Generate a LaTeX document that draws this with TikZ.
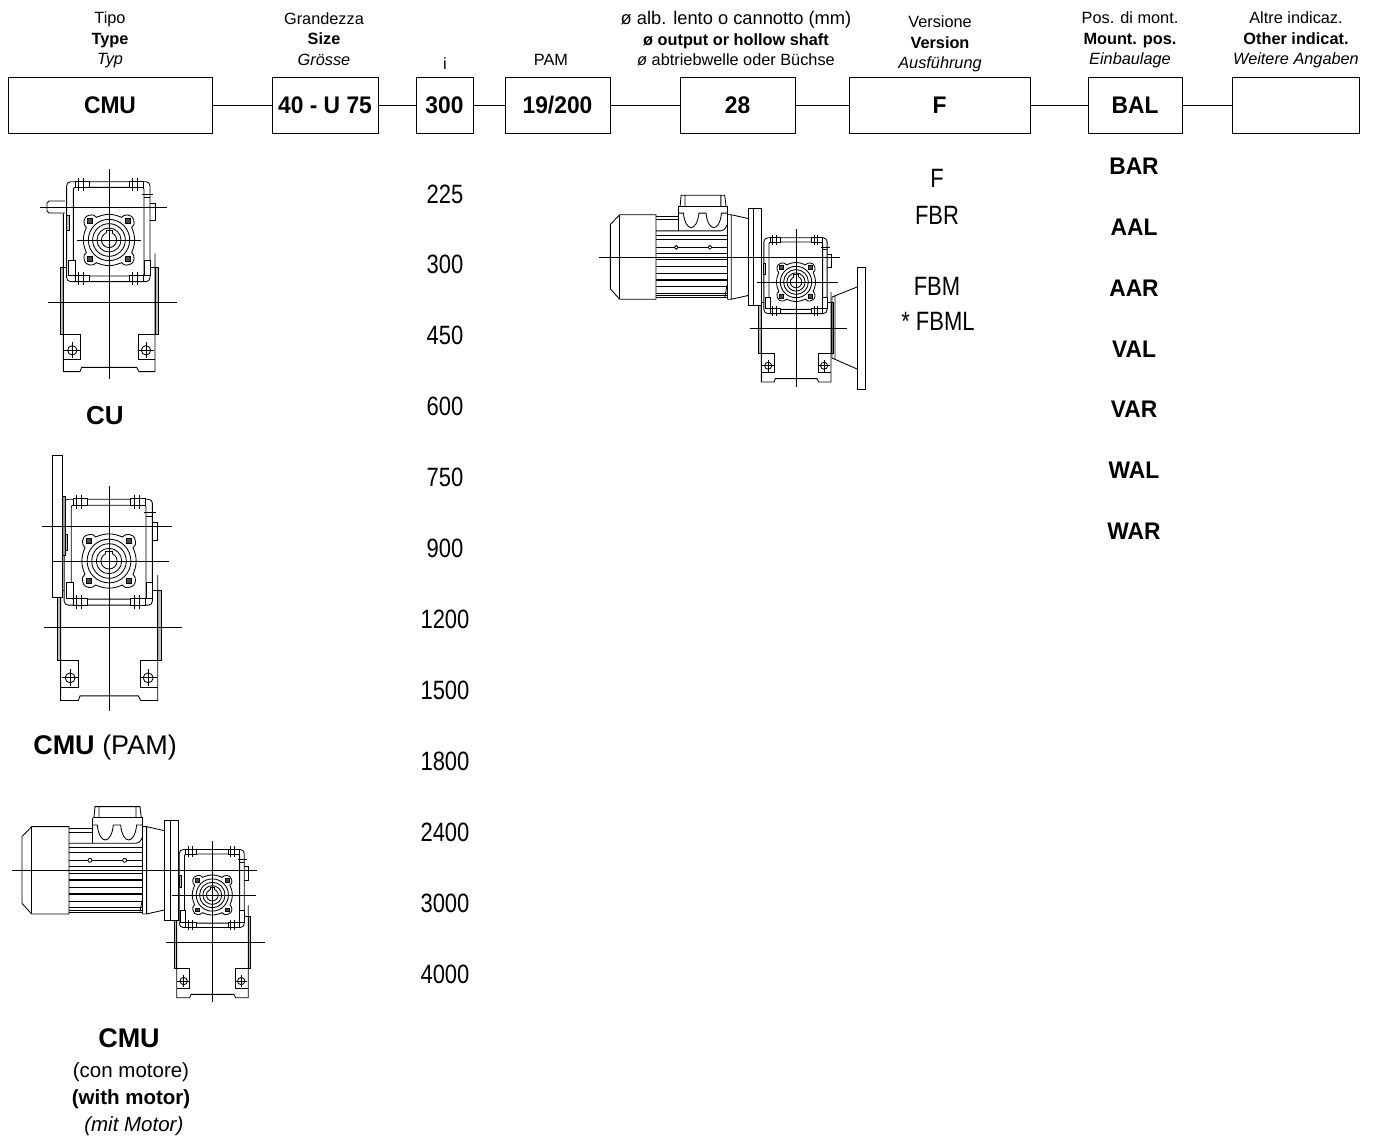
\documentclass[tikz,border=0pt]{standalone}
\usepackage{fontspec}
\setmainfont{Liberation Sans}
\newfontfamily\tallfont[FakeStretch=0.83]{Liberation Sans}
\newfontfamily\codefont[FakeStretch=0.95]{Liberation Sans}
\newcommand{\fs}[1]{\fontsize{#1}{#1}\selectfont}

\begin{document}
\begin{tikzpicture}[x=1pt,y=-1pt,line width=0.85pt,
  every node/.style={inner sep=0pt},
  codebox/.style={draw,line width=1pt,font=\codefont\fs{24}\bfseries},
  headtxt/.style={align=center,font=\fontsize{16.3}{20.5}\selectfont},
  listtxt/.style={font=\tallfont\fs{26.5}},
  posntxt/.style={font=\codefont\fs{24}\bfseries},
  axisln/.style={line width=0.7pt},
  gearbox/.pic={
    % housing
    \draw[rounded corners=4pt] (-127,-175) rectangle (123,125);
    \draw[rounded corners=2pt] (-107,-158) rectangle (105,108);
    \foreach \bx in {-102,61}{
      \draw[fill=white] (\bx,-177) rectangle ++(42,19);
      \draw[fill=white] (\bx,106) rectangle ++(42,19);
      \draw (\bx+10,-187)--(\bx+10,-148) (\bx+25,-187)--(\bx+25,-148);
      \draw (\bx+10,96)--(\bx+10,135) (\bx+25,96)--(\bx+25,135);
    }
    \draw[fill=white] (-122,60) rectangle (-102,105);
    \draw[fill=white] (105,60) rectangle (123,105);
    \draw (98,-138)--(133,-138) (105,-127)--(123,-127);
    \draw (123,-110)--(138,-110)--(138,-58)--(123,-58);
    % output hub
    \foreach \ang in {0,90,180,270}{
      \draw[rotate=\ang] (0,-77) .. controls (15,-77) and (28,-72) .. (38,-68)
        .. controls (44,-78) and (70,-80) .. (74,-60) .. controls (78,-45) and (72,-42) .. (68,-38)
        .. controls (72,-28) and (77,-15) .. (77,0);
      \draw[rotate=\ang,fill=black!70] (50,-64) rectangle (64,-50);
    }
    \draw (0,0) circle (62) (0,0) circle (49) (0,0) circle (36);
    \draw (-9,-21) -- (-9,-28) -- (9,-28) -- (9,-21);
    \draw (9,-21) arc (-67:247:22.8);
    % foot
    \draw[fill=black!25] (-147,82) rectangle (-137,282);
    \draw[fill=black!25] (138,82) rectangle (148,282);
    \draw (-147,82)--(-127,82) (123,82)--(138,82);
    \draw (-137,-80)--(-137,395)--(-87,395)--(-82,382)--(83,382)--(90,395)--(138,395)--(138,40);
    \draw[fill=black!25] (-127,-75) rectangle (-119,-30);
    \draw (-137,283)--(-87,283)--(-87,358)--(-137,358);
    \draw (138,283)--(88,283)--(88,358)--(138,358);
    \draw (-110,331) circle (14) (111,331) circle (14);
    \draw (-110,307)--(-110,355) (-134,331)--(-86,331);
    \draw (111,307)--(111,355) (87,331)--(135,331);
  },
  motorpic/.pic={
    \draw (-427,-101)--(-398,-131)--(-286,-131)--(-286,131)--(-398,131)--(-427,99)--cycle;
    \draw (-398,-131)--(-398,131);
    % ribs
    \draw (-286,-126)--(-215,-126) (-286,-115)--(-215,-115) (-286,126)--(-65,126) (-65,-158)--(-65,131);
    \draw (-215,-158)--(-65,-158) (-215,-158)--(-215,-81);
    \draw (-286,-81)--(-85,-81) .. controls (-75,-83) .. (-65,-100);
    \foreach \ry in {-54,-11,29,71,112}{\draw[line width=1.3pt] (-286,\ry)--(-65,\ry);}
    \foreach \ry in {-68,-31,9,51,92,120}{\draw (-286,\ry)--(-65,\ry);}
    \draw[fill=white] (-223,-30) circle (6) (-119,-30) circle (6);
    \draw (-65,84)--(-73,124);
    % terminal box
    \draw (-211,-158)--(-208,-191)--(-73,-191)--(-69,-158) (-196,-191)--(-196,-158) (-85,-191)--(-85,-158);
    \draw (-215,-136)--(-201,-136) .. controls (-195,-76) and (-159,-76) .. (-153,-136)
      --(-131,-136) .. controls (-125,-76) and (-89,-76) .. (-83,-136)--(-65,-136);
    % bell and flange
    \draw (-65,-131)--(-53,-131)--(-53,131)--(-65,131) (-53,-131)--(0,-119) (-53,131)--(0,119);
    \draw[fill=white] (0,-151) rectangle (42,151);
    \draw (17,-151)--(17,151);
  }]
\useasboundingbox (0,0) rectangle (1373,1141);

% code boxes
\node[codebox,minimum width=204pt,minimum height=56pt] (cmu) at (110,105.5) {CMU};
\node[codebox,minimum width=106pt,minimum height=56pt] (size) at (325,105.5) {40 - U 75};
\node[codebox,minimum width=57pt,minimum height=56pt] (ratio) at (444.5,105.5) {300};
\node[codebox,minimum width=105pt,minimum height=56pt] (pam) at (557.5,105.5) {19/200};
\node[codebox,minimum width=115pt,minimum height=56pt] (shaft) at (737.5,105.5) {28};
\node[codebox,minimum width=181pt,minimum height=56pt] (vers) at (939.5,105.5) {F};
\node[codebox,minimum width=94pt,minimum height=56pt] (mount) at (1135,105.5) {BAL};
\node[codebox,minimum width=127pt,minimum height=56pt] (other) at (1295.5,105.5) {};
\draw (cmu)--(size);
\draw (size)--(ratio);
\draw (ratio)--(pam);
\draw (pam)--(shaft);
\draw (shaft)--(vers);
\draw (vers)--(mount);
\draw (mount)--(other);

% column heads
\node[headtxt] (htype) at (110,40) {Tipo\\\textbf{Type}\\\textit{Typ}};
\node[headtxt] (hsize) at (324,39) {Grandezza\\\textbf{Size}\\\textit{Grösse}};
\node[headtxt] (hratio) at (445,64) {i};
\node[headtxt] (hpam) at (551,60) {PAM};
\node[headtxt] (hshaft) at (736,39) {{\fontsize{18.3}{20.5}\selectfont ø alb. lento o cannotto (mm)}\\\textbf{ø output or hollow shaft}\\\textit{ø} abtriebwelle oder Büchse};
\node[headtxt] (hvers) at (940,44) {Versione\\\textbf{Version}\\\textit{Ausführung}};
\node[headtxt] (hmount) at (1130,40) {Pos. di mont.\\\textbf{Mount. pos.}\\\textit{Einbaulage}};
\node[headtxt] (hother) at (1296,40) {Altre indicaz.\\\textbf{Other indicat.}\\\textit{Weitere Angaben}};

% ratios
\foreach \rr/\ry in {225/194.5,300/264.5,450/335.5,600/406.5,750/477.5,900/548.5}
  \node[listtxt] (r\rr) at (445,\ry) {\rr};
\foreach \rr/\ry in {1200/619.5,1500/690.5,1800/761.5,2400/832.5,3000/903.5,4000/974.5}
  \node[listtxt] (r\rr) at (445,\ry) {\rr};

% versions
\node[listtxt] (vf) at (937,178) {F};
\node[listtxt] (vfbr) at (937,215) {FBR};
\node[listtxt] (vfbm) at (937,286) {FBM};
\node[listtxt] (vfbml) at (938,321) {* FBML};

% mounting positions
\foreach \pp/\py in {BAR/166.5,AAL/227.5,AAR/288.5,VAL/349.5,VAR/409.5,WAL/470.5,WAR/531.5}
  \node[posntxt] (p\pp) at (1134,\py) {\pp};

% captions
\node[font=\fs{26}\bfseries] (capcu) at (105,416) {CU};
\node[font=\fs{27}] (cappam) at (105,748) {\textbf{CMU} (PAM)};
\node[font=\fs{27}\bfseries] (capcmu) at (129,1038) {CMU};
\node[align=center,font=\fontsize{20.5}{27}\selectfont] (capmot) at (131,1099) {(con motore)\\\textbf{(with motor)}\\\textit{\ (mit Motor)}};

% CU view
\pic[scale=0.3333] at (109,240) {gearbox};
\draw (65,201)--(49,201)--(47,203)--(47,211)--(49,213)--(65,213);
\draw[axisln] (109,169)--(109,379) (40,207)--(167,207) (77,240)--(141,240) (48,302)--(177,302);

% CMU (PAM) view
\pic[scale=0.353] at (109,561) {gearbox};
\draw[fill=white] (52,455) rectangle (62,597);
\draw[fill=black!40] (62,496) rectangle (65,555);
\draw[axisln] (109,486)--(109,711) (42,526)--(172,526) (52,561)--(169,561) (44,627)--(182,627);

% CMU with motor view
\pic[scale=0.26] at (212.3,895) {gearbox};
\pic[scale=0.3333] at (164.3,870.3) {motorpic};
\draw[axisln] (212,841)--(212,1002) (12,870)--(257,870) (172,895)--(256,895) (166,942)--(265,942);

% version F view
\pic[scale=0.253] at (796,282) {gearbox};
\pic[scale=0.323] at (748.3,257) {motorpic};
\draw (832,297)--(857,287) (832,358)--(857,369) (832,297)--(832,358) (835,296)--(835,359);
\draw[fill=white] (857,267) rectangle (865,389);
\draw[axisln] (796,229)--(796,387) (599,257)--(840,257) (757,282)--(838,282) (750,328)--(847,328);
\end{tikzpicture}
\end{document}
